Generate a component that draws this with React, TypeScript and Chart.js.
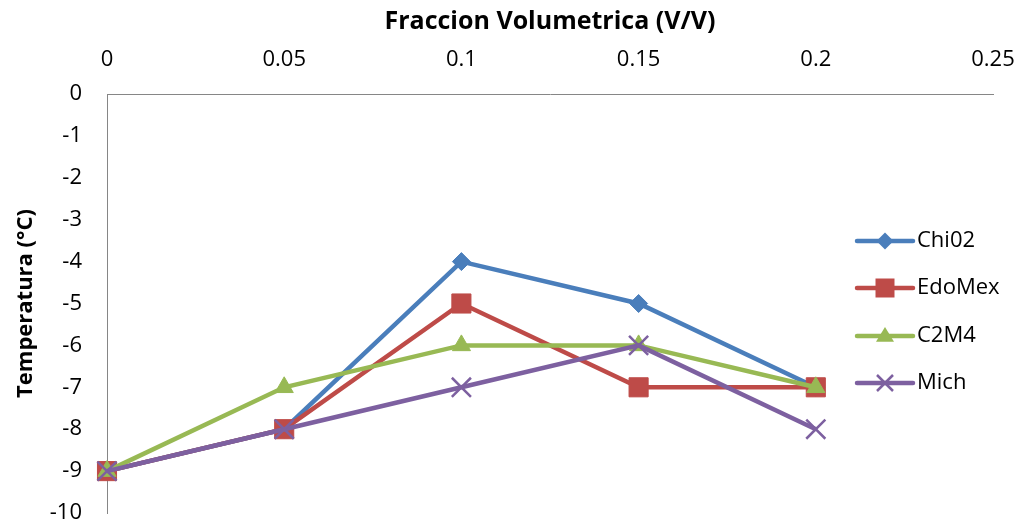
import React, { useEffect, useRef } from "react";
import { Chart, registerables } from "chart.js";

Chart.register(...registerables);

const xValues = [0, 0.05, 0.1, 0.15, 0.2];
const xTicks = [0, 0.05, 0.1, 0.15, 0.2, 0.25];
const xTickLabels = ["0", "0.05", "0.1", "0.15", "0.2", "0.25"];
const seriesNames = ["Chi02", "EdoMex", "C2M4", "Mich"];
const chi02 = [-9, -8, -4, -5, -7];
const edoMex = [-9, -8, -5, -7, -7];
const c2m4 = [-9, -7, -6, -6, -7];
const mich = [-9, -8, -7, -6, -8];
const colors = ["#4A7EBB", "#BE4B48", "#98B954", "#7D60A0"];
const pointStyles = ["rectRot", "rect", "triangle", "crossRot"];
const pointRadii = [9, 13.5, 10.5, 13.5];

const FONT = "'Open Sans', Lato, sans-serif";

const legendPlugin = {
  id: "lineLegend",
  afterDraw(chart: any) {
    const ctx = chart.ctx;
    const x0 = 857;
    const x1 = 913;
    const ys = [241, 288, 336, 383];
    ctx.save();
    seriesNames.forEach((name, i) => {
      const y = ys[i];
      ctx.strokeStyle = colors[i];
      ctx.lineWidth = 4.5;
      ctx.lineCap = "round";
      ctx.beginPath();
      ctx.moveTo(x0, y);
      ctx.lineTo(x1, y);
      ctx.stroke();
      const cx = (x0 + x1) / 2;
      ctx.fillStyle = colors[i];
      ctx.strokeStyle = colors[i];
      ctx.lineWidth = i === 3 ? 2.5 : 1;
      ctx.lineCap = "butt";
      ctx.beginPath();
      if (i === 0) {
        const r = 8.5;
        ctx.moveTo(cx, y - r);
        ctx.lineTo(cx + r, y);
        ctx.lineTo(cx, y + r);
        ctx.lineTo(cx - r, y);
        ctx.closePath();
        ctx.fill();
      } else if (i === 1) {
        const r = 9.5;
        ctx.rect(cx - r, y - r, 2 * r, 2 * r);
        ctx.fill();
      } else if (i === 2) {
        const r = 9;
        ctx.moveTo(cx, y - r);
        ctx.lineTo(cx + r, y + r * 0.65);
        ctx.lineTo(cx - r, y + r * 0.65);
        ctx.closePath();
        ctx.fill();
      } else {
        const d = 8;
        ctx.moveTo(cx - d, y - d);
        ctx.lineTo(cx + d, y + d);
        ctx.moveTo(cx + d, y - d);
        ctx.lineTo(cx - d, y + d);
        ctx.stroke();
      }
      ctx.fillStyle = "#000";
      ctx.font = `22px ${FONT}`;
      ctx.textBaseline = "middle";
      ctx.textAlign = "left";
      ctx.fillText(name, 917, y);
    });
    ctx.restore();
  },
};

export default function App() {
  const ref = useRef<HTMLCanvasElement>(null);

  useEffect(() => {
    document.body.style.margin = "0";
    const allData = [chi02, edoMex, c2m4, mich];
    const chart = new Chart(ref.current!, {
      type: "line",
      data: {
        datasets: allData.map((vals, i) => ({
          label: seriesNames[i],
          data: vals.map((v, j) => ({ x: xValues[j], y: v })),
          borderColor: colors[i],
          backgroundColor: colors[i],
          borderWidth: 4.5,
          pointStyle: pointStyles[i] as any,
          pointRadius: pointRadii[i],
          pointBorderWidth: i === 3 ? 2.5 : 1,
          pointBorderColor: colors[i],
          pointBackgroundColor: colors[i],
          tension: 0,
          clip: false as any,
          order: 3 - i,
        })),
      },
      options: {
        animation: false,
        responsive: false,
        layout: { autoPadding: false, padding: { top: 0, right: 29, bottom: 12, left: 0 } },
        plugins: { legend: { display: false }, tooltip: { enabled: false } },
        scales: {
          x: {
            type: "linear",
            position: "top",
            min: 0,
            max: 0.25,
            afterBuildTicks: (scale: any) => {
              scale.ticks = xTicks.map((v) => ({ value: v }));
            },
            afterFit: (scale: any) => {
              scale.height = 94;
              scale.paddingLeft = 0;
              scale.paddingRight = 0;
            },
            ticks: {
              color: "#000",
              font: { family: FONT, size: 22 },
              padding: 13,
              maxRotation: 0,
              autoSkip: false,
              callback: (_v: any, idx: number) => xTickLabels[idx],
            },
            grid: { display: false },
            border: { display: true, color: "#868686", width: 1 },
            title: {
              display: true,
              text: "Fraccion Volumetrica (V/V)",
              color: "#000",
              font: { family: FONT, size: 25, weight: "bold" },
              padding: { top: 7, bottom: 0 },
            },
          },
          y: {
            type: "linear",
            min: -10,
            max: 0,
            afterFit: (scale: any) => {
              scale.width = 107;
              scale.paddingTop = 0;
              scale.paddingBottom = 0;
            },
            ticks: {
              stepSize: 1,
              color: "#000",
              font: { family: FONT, size: 22 },
              padding: 17,
            },
            grid: { display: false },
            border: { display: true, color: "#868686", width: 1 },
            title: {
              display: true,
              text: "Temperatura (°C)",
              color: "#000",
              font: { family: FONT, size: 22, weight: "bold" },
              padding: { top: 13, bottom: 0 },
            },
          },
        },
      },
      plugins: [legendPlugin],
    });
    return () => chart.destroy();
  }, []);

  return <canvas ref={ref} width={1022} height={525} style={{ display: "block" }} />;
}
